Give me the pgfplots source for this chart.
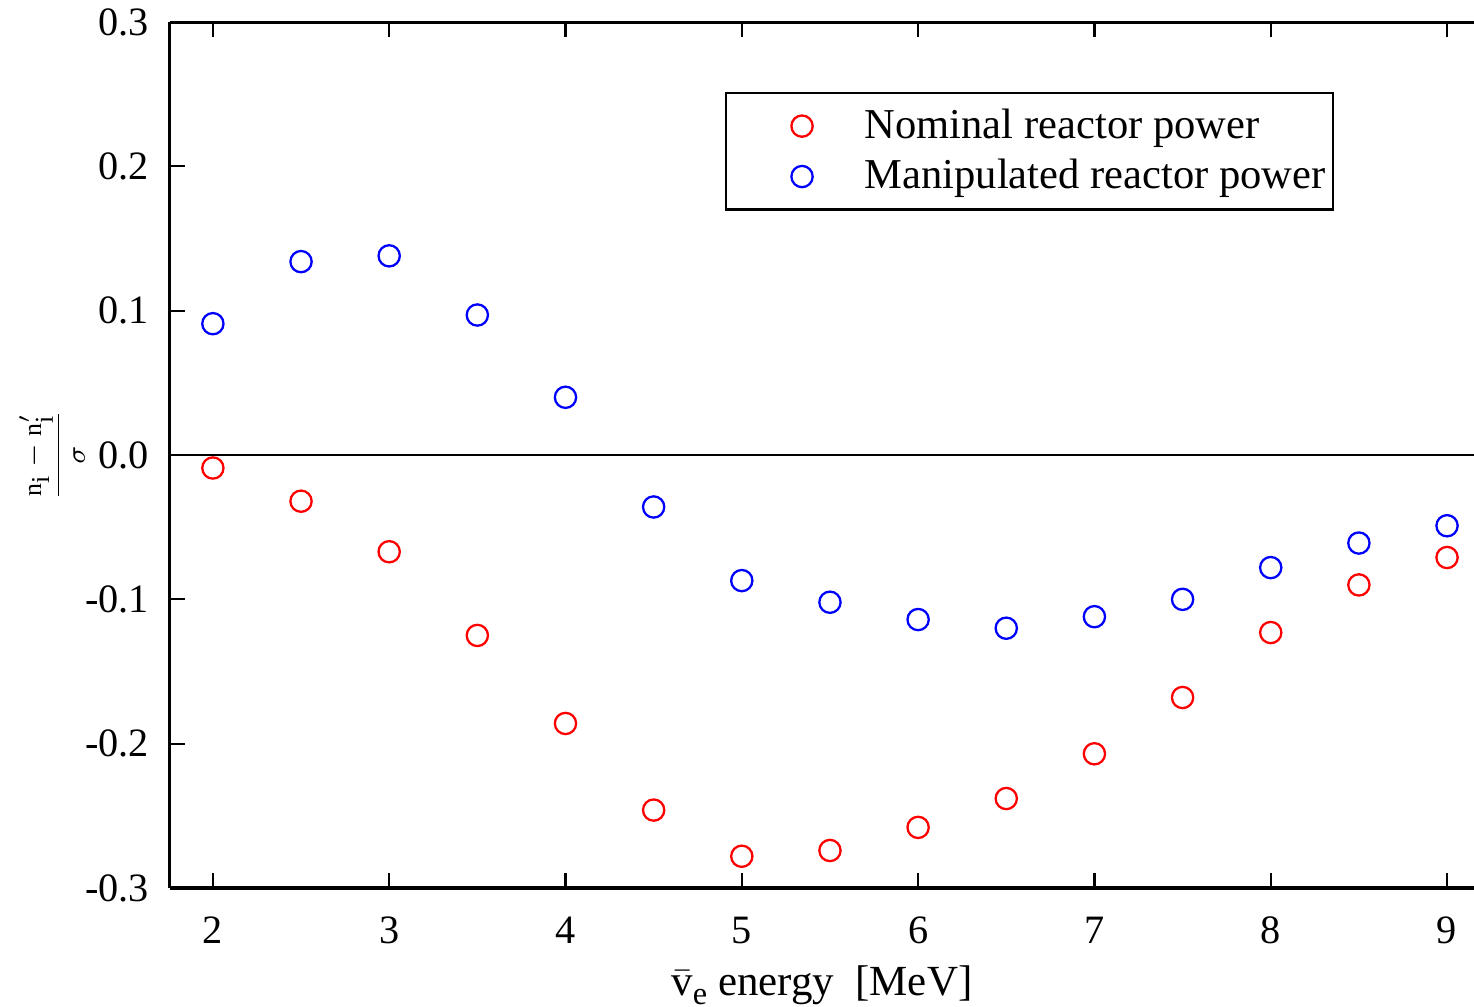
\documentclass[border=0pt]{standalone}
\usepackage{fontspec}
\setmainfont{Liberation Serif}
\usepackage{pgfplots}
\pgfplotsset{compat=1.18}
\begin{document}
\begin{tikzpicture}
\begin{axis}[
  scale only axis,
  width=343.2pt, height=227.9pt,
  xmin=1.756, xmax=9.153,
  ymin=-0.3, ymax=0.3,
  axis x line*=box,
  axis y line*=left,
  axis line style={line width=0.8pt},
  every tick/.style={black, line width=0.6pt},
  major tick length=4pt,
  tick align=inside,
  xtick={2,3,4,5,6,7,8,9},
  ytick={-0.3,-0.2,-0.1,0,0.1,0.2,0.3},
  yticklabels={-0.3,-0.2,-0.1,0.0,0.1,0.2,0.3},
  /pgf/number format/assume math mode=true,
  tick label style={font=\fontsize{10.6}{13}\selectfont},
  xticklabel style={yshift=-4pt},
  yticklabel style={xshift=-2pt},
  xtick pos=both,
  ytick pos=left,
  xlabel={$\bar{\textrm{v}}$\raisebox{-0.45ex}{\fontsize{8.5}{10}\selectfont e}\ energy\ \ [MeV]},
  xlabel style={font=\fontsize{11.3}{14}\selectfont, yshift=1pt},
  ylabel={$\displaystyle\frac{\textrm{n}_{\textrm{i}}-\textrm{n}'_{\textrm{i}}}{\sigma}$},
  every axis y label/.style={at={(axis description cs:0,0.5)}, xshift=-31pt, rotate=90, anchor=center, font=\fontsize{6.8}{9}\selectfont},
  legend style={at={(0.4256,0.919)}, anchor=north west, draw=black, line width=0.6pt,
    font=\fontsize{11.2}{14}\selectfont, inner xsep=0pt, inner ysep=2pt,
    row sep=0pt, cells={anchor=west}},
  legend image code/.code={\draw[mark repeat=2,mark phase=2,#1] plot coordinates {(10pt,0pt)(20pt,0pt)(30pt,0pt)}; \path[draw=none,fill=none] (0pt,0pt) -- (34.5pt,0pt);},
]
\coordinate (ll) at (rel axis cs:0,0);
\coordinate (ur) at (rel axis cs:1,1);
\draw[black, line width=0.6pt] (axis cs:1.756,0) -- (axis cs:9.153,0);
\addplot[only marks, mark=o, mark size=2.8pt, red, mark options={line width=0.6pt}] coordinates {
(2,-0.009)(2.5,-0.032)(3,-0.067)(3.5,-0.125)(4,-0.186)(4.5,-0.246)(5,-0.278)(5.5,-0.274)
(6,-0.258)(6.5,-0.238)(7,-0.207)(7.5,-0.168)(8,-0.123)(8.5,-0.090)(9,-0.071)};
\addlegendentry{Nominal reactor power}
\addplot[only marks, mark=o, mark size=2.8pt, blue, mark options={line width=0.6pt}] coordinates {
(2,0.091)(2.5,0.134)(3,0.138)(3.5,0.097)(4,0.040)(4.5,-0.036)(5,-0.087)(5.5,-0.102)
(6,-0.114)(6.5,-0.120)(7,-0.112)(7.5,-0.100)(8,-0.078)(8.5,-0.061)(9,-0.049)};
\addlegendentry{Manipulated reactor power}
\end{axis}
\pgfresetboundingbox
\path[use as bounding box] ([xshift=-44.7pt, yshift=-31.3pt]ll) rectangle ([yshift=5.8pt]ur);
\end{tikzpicture}
\end{document}
